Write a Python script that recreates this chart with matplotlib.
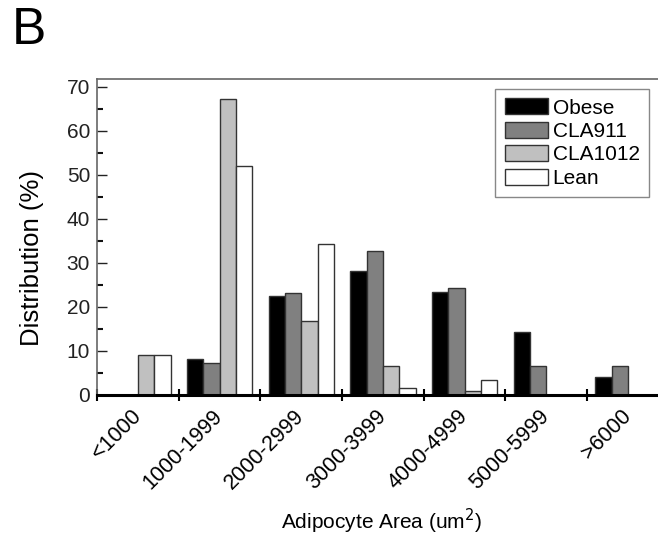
import matplotlib
matplotlib.use("Agg")
import matplotlib.pyplot as plt
import numpy as np
from matplotlib.ticker import MultipleLocator, FixedLocator

plt.rcParams['font.family'] = ['Liberation Sans', 'DejaVu Sans']

categories = ['<1000', '1000-1999', '2000-2999', '3000-3999', '4000-4999', '5000-5999', '>6000']
series_names = ['Obese', 'CLA911', 'CLA1012', 'Lean']
obese = [0, 8.1, 22.5, 28.2, 23.3, 14.4, 4.2]
cla911 = [0, 7.3, 23.2, 32.7, 24.2, 6.6, 6.6]
cla1012 = [9.0, 67.2, 16.8, 6.5, 1.0, 0, 0]
lean = [9.0, 52.0, 34.4, 1.7, 3.3, 0, 0]
colors = ['#000000', '#808080', '#c0c0c0', '#ffffff']

fig = plt.figure(figsize=(6.58, 5.36), dpi=100)
ax = fig.add_axes([97/658, (536-395)/536, 1 - 97/658, (395-79)/536])

x = np.arange(len(categories))
w = 0.2
for i, (vals, name, c) in enumerate(zip([obese, cla911, cla1012, lean], series_names, colors)):
    ax.bar(x - 0.3 + i*w, vals, width=w, color=c, edgecolor='#333333', linewidth=1.0, label=name, zorder=2)

ax.set_xlim(-0.5, -0.5 + (658-97)/81.67)
ax.set_ylim(0, 71.8)

ax.yaxis.set_major_locator(MultipleLocator(10))
ax.yaxis.set_minor_locator(MultipleLocator(5))
ax.tick_params(axis='y', which='major', direction='in', length=7, width=1, colors='#222222', labelsize=15, pad=5)
ax.tick_params(axis='y', which='minor', direction='in', length=4, width=1.5, colors='#111111')

bounds = np.arange(len(categories) + 1) - 0.5
ax.xaxis.set_major_locator(FixedLocator(list(bounds)))
ax.xaxis.set_major_formatter(plt.NullFormatter())
ax.set_xticks(x, categories, minor=True)
ax.tick_params(axis='x', which='major', direction='inout', length=9, width=1.5, colors='black')
ax.tick_params(axis='x', which='minor', length=0, labelsize=15.5, pad=13)
for lab in ax.get_xticklabels(minor=True):
    lab.set_rotation(45)
    lab.set_ha('right')
    lab.set_va('center')
    lab.set_rotation_mode('anchor')

for s in ['left', 'top']:
    ax.spines[s].set_color('#666666')
    ax.spines[s].set_linewidth(1.2)
ax.spines['bottom'].set_color('black')
ax.spines['bottom'].set_linewidth(2.2)
ax.spines['right'].set_visible(False)

ax.set_ylabel('Distribution (%)', fontsize=18.5)
ax.yaxis.set_label_coords(-0.095, 0.434)
ax.set_xlabel('Adipocyte Area (um$^2$)', fontsize=15)
ax.xaxis.set_label_coords(0.508, -0.355)

leg = ax.legend(loc='upper right', bbox_to_anchor=(0.984, 0.968), fontsize=15,
                frameon=True, fancybox=False, edgecolor='#888888', framealpha=1,
                handlelength=2.1, handleheight=0.8, labelspacing=0.2, borderpad=0.45,
                handletextpad=0.2, borderaxespad=0)
leg.get_frame().set_linewidth(1.0)

fig.text(12/658, 1 - 6/536, 'B', fontsize=37, ha='left', va='top')

fig.savefig('out.png', dpi=100)
